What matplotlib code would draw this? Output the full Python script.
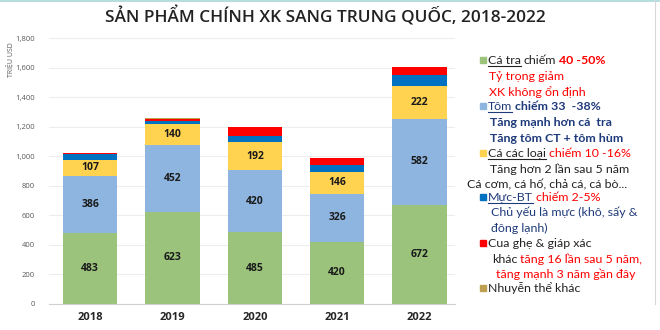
import matplotlib.pyplot as plt
from matplotlib.patches import Rectangle
from matplotlib.lines import Line2D

plt.rcParams['font.family'] = ['Lato', 'Open Sans', 'DejaVu Sans']

years = ['2018', '2019', '2020', '2021', '2022']
ca_tra = [483, 623, 485, 420, 672]
tom = [386, 452, 420, 326, 582]
ca_cac_loai = [107, 140, 192, 146, 222]
muc_bt = [38, 24, 42, 46, 71]
cua_ghe = [5, 16, 61, 48, 54]
nhuyen_the = [2, 2, 1, 1, 4]
yticks = [0, 200, 400, 600, 800, 1000, 1200, 1400, 1600, 1800]

series = [ca_tra, tom, ca_cac_loai, muc_bt, cua_ghe, nhuyen_the]
colors = ['#9BC37C', '#8DB5E0', '#FFD34F', '#0070C0', '#FF0000', '#BFA050']
labelled = [True, True, True, False, False, False]

W, H = 660, 330
fig = plt.figure(figsize=(6.6, 3.3), dpi=100)
ax = fig.add_axes([49 / W, 26 / H, 406 / W, 266 / H])

x = list(range(len(years)))
bottom = [0] * len(years)
for vals, col, lab in zip(series, colors, labelled):
    bars = ax.bar(x, vals, 0.66, bottom=bottom, color=col, zorder=2)
    if lab:
        ax.bar_label(bars, labels=[str(v) for v in vals], label_type='center',
                     fontsize=7.5, fontweight='bold', color='#1a1a1a',
                     family=['Open Sans', 'DejaVu Sans'])
    bottom = [b + v for b, v in zip(bottom, vals)]

ax.set_xlim(-0.5, 4.43)
ax.set_ylim(0, 1800)
ax.set_yticks(yticks)
ax.set_yticklabels([f'{v:,}' for v in yticks], fontsize=5.5, color='#595959',
                   family=['Open Sans', 'DejaVu Sans'])
ax.set_xticks(x)
ax.set_xticklabels(years, fontsize=8, fontweight='bold', color='#262626',
                   family=['Open Sans', 'DejaVu Sans'])
ax.tick_params(axis='both', length=0)
ax.tick_params(axis='y', pad=10)
ax.tick_params(axis='x', pad=6)
ax.grid(axis='y', color='#EDEDED', lw=0.8, zorder=0)
for s in ['top', 'right', 'left']:
    ax.spines[s].set_visible(False)
ax.spines['bottom'].set_color('#D0D0D0')

fig.text(10 / W, 1 - 60 / H, 'TRIỆU USD', rotation=90, fontsize=5,
         color='#595959', ha='center', va='center',
         family=['Open Sans', 'DejaVu Sans'])
fig.text(325 / W, 1 - 16 / H, 'SẢN PHẨM CHÍNH XK SANG TRUNG QUỐC, 2018-2022',
         fontsize=12.4, fontweight='semibold', color='#222222',
         ha='center', va='center', family=['Open Sans', 'DejaVu Sans'])

# border lines of the slide
fig.add_artist(Line2D([0, 1], [1 - 1 / H, 1 - 1 / H], color='#A8D8D8', lw=1.2))
fig.add_artist(Line2D([655 / W, 655 / W], [0.08, 1], color='#D8D8D8', lw=0.8))

# legend-like text block
renderer = fig.canvas.get_renderer()
fs = 8.9
red = '#FF0000'
navy = '#1F3A7A'
black = '#222222'


def text_line(x0, y0, parts):
    xp = x0
    yb = 1 - (y0 + 4) / H
    for s, col, bold, under in parts:
        t = fig.text(xp / W, yb, s, fontsize=fs, color=col,
                     fontweight='bold' if bold else 'normal',
                     ha='left', va='baseline')
        bb = t.get_window_extent(renderer)
        if under:
            fig.add_artist(Line2D([xp / W, bb.x1 / W], [yb - 2 / H] * 2,
                                  color=col, lw=0.8))
        xp = bb.x1 + 3


def marker(x0, y0, col):
    fig.add_artist(Rectangle(((x0 - 3) / W, 1 - (y0 + 3) / H), 6 / W, 6 / H,
                             color=col, transform=fig.transFigure))


marker(483, 60, colors[0])
text_line(488, 60, [('Cá tra', black, False, True), ('chiếm', black, False, False),
                    ('40 -50%', red, True, False)])
text_line(489, 76, [('Tỷ trọng giảm', red, False, False)])
text_line(489, 92, [('XK không ổn định', red, False, False)])
marker(483, 106, colors[1])
text_line(488, 106, [('Tôm', navy, False, True), ('chiếm 33  -38%', navy, True, False)])
text_line(490, 122, [('Tăng mạnh hơn cá  tra', navy, True, False)])
text_line(490, 138, [('Tăng tôm CT + tôm hùm', navy, True, False)])
marker(483, 153, colors[2])
text_line(488, 153, [('Cá các loại', black, False, True), ('chiếm 10 -16%', red, False, False)])
text_line(490, 169, [('Tăng hơn 2 lần sau 5 năm', black, False, False)])
text_line(467, 184, [('Cá cơm, cá hố, chả cá, cá bò...', black, False, False)])
marker(483, 197, colors[3])
text_line(488, 197, [('Mực-BT', navy, False, True), ('chiếm 2-5%', red, False, False)])
text_line(491, 212, [('Chủ yếu là mực (khô, sấy &', navy, False, False)])
text_line(491, 228, [('đông lạnh)', navy, False, False)])
marker(483, 243, colors[4])
text_line(488, 243, [('Cua ghẹ & giáp xác', black, False, False)])
text_line(492, 259, [('khác', black, False, False), ('tăng 16 lần sau 5 năm,', red, False, False)])
text_line(496, 274, [('tăng mạnh 3 năm gần đây', red, False, False)])
marker(483, 288, colors[5])
text_line(488, 288, [('Nhuyễn thể khác', black, False, False)])

fig.savefig('out.png', dpi=100)
